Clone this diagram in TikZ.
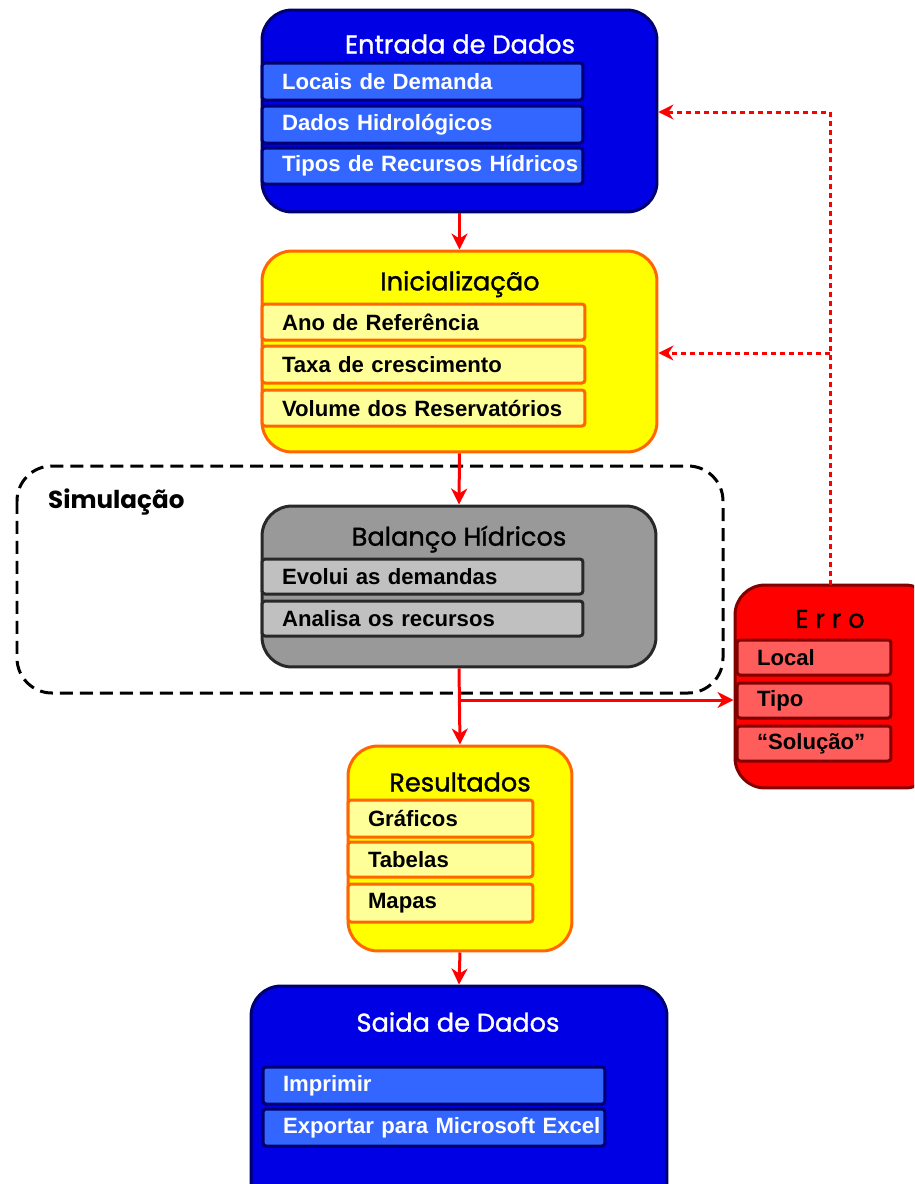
\documentclass[tikz,border=0pt]{standalone}
\usepackage{fontspec}
\setmainfont{Liberation Sans}
\newfontfamily\titlefont[FakeBold=1.2]{Poppins}
\newfontfamily\simfont{Poppins}
\usetikzlibrary{arrows.meta}
\newcommand{\boxtxt}[1]{\hspace*{0.4cm}\mbox{#1}}
\definecolor{bluefill}{RGB}{0,0,228}
\definecolor{navy}{RGB}{0,0,110}
\definecolor{blueitem}{RGB}{51,102,255}
\definecolor{yelfill}{RGB}{255,255,0}
\definecolor{orangeb}{RGB}{255,102,0}
\definecolor{yelitem}{RGB}{255,255,153}
\definecolor{grayfill}{RGB}{153,153,153}
\definecolor{grayb}{RGB}{40,40,40}
\definecolor{grayitem}{RGB}{192,192,192}
\definecolor{redfill}{RGB}{255,0,0}
\definecolor{redb}{RGB}{128,0,0}
\definecolor{reditem}{RGB}{255,92,92}
\definecolor{arrowred}{RGB}{255,0,0}
\tikzset{
  outer/.style={draw, line width=0.06cm, rounded corners=0.6cm, inner sep=0pt},
  item/.style={draw, line width=0.06cm, rounded corners=0.06cm, inner xsep=0pt, inner ysep=0pt, align=left, font=\bfseries\fontsize{12.6}{14}\selectfont},
  ttl/.style={font=\titlefont\fontsize{14.6}{16}\selectfont},
  arr/.style={draw=arrowred, line width=0.06cm, -{Stealth[length=0.32cm,width=0.32cm,inset=0.1cm]}},
  dotarr/.style={draw=arrowred, line width=0.06cm, dash pattern=on 0.1cm off 0.08cm, -{Stealth[length=0.3cm,width=0.3cm,inset=0.1cm]}},
}
\begin{document}
\begin{tikzpicture}[x=0.02cm,y=-0.02cm]
\clip (0,0) rectangle (914,1184);
\useasboundingbox (0,0) rectangle (914,1184);
% Simulacao dashed group
\draw[line width=0.06cm, dash pattern=on 0.26cm off 0.14cm, rounded corners=0.7cm] (17,466) rectangle (723,693);
\node[anchor=west, font=\simfont\bfseries\fontsize{14}{16}\selectfont] (sim) at (42,502) {Simulação};
% Entrada
\node[outer, fill=bluefill, draw=navy, minimum width=7.9cm, minimum height=4.04cm] (entrada) at (459.5,111) {};
\node[ttl, text=white] (entradaT) at (460,44) {Entrada de Dados};
\node[item, fill=blueitem, draw=navy, text=white, text width=6.42cm, minimum height=0.74cm] (e1) at (422.5,81.5) {\boxtxt{Locais de Demanda}};
\node[item, fill=blueitem, draw=navy, text=white, text width=6.42cm, minimum height=0.74cm] (e2) at (422.5,124.5) {\boxtxt{Dados Hidrológicos}};
\node[item, fill=blueitem, draw=navy, text=white, text width=6.42cm, minimum height=0.72cm] (e3) at (422.5,166) {\boxtxt{Tipos de Recursos Hídricos}};
% Inicializacao
\node[outer, fill=yelfill, draw=orangeb, minimum width=7.9cm, minimum height=4.02cm] (inicial) at (459.5,351.5) {};
\node[ttl] (inicialT) at (460,284) {Inicialização};
\node[item, fill=yelitem, draw=orangeb, text width=6.46cm, minimum height=0.72cm] (i1) at (423.5,322) {\boxtxt{Ano de Referência}};
\node[item, fill=yelitem, draw=orangeb, text width=6.46cm, minimum height=0.74cm] (i2) at (423.5,364.5) {\boxtxt{Taxa de crescimento}};
\node[item, fill=yelitem, draw=orangeb, text width=6.46cm, minimum height=0.72cm] (i3) at (423.5,408) {\boxtxt{Volume dos Reservatórios}};
% Balanco
\node[outer, fill=grayfill, draw=grayb, minimum width=7.88cm, minimum height=3.22cm] (balanco) at (459,586.5) {};
\node[ttl] (balancoT) at (459,539) {Balanço Hídricos};
\node[item, fill=grayitem, draw=grayb, text width=6.42cm, minimum height=0.7cm] (b1) at (422.5,576.5) {\boxtxt{Evolui as demandas}};
\node[item, fill=grayitem, draw=grayb, text width=6.42cm, minimum height=0.7cm] (b2) at (422.5,618.5) {\boxtxt{Analisa os recursos}};
% Erro
\node[outer, fill=redfill, draw=redb, minimum width=4cm, minimum height=4.06cm] (erro) at (835,686.5) {};
\node[ttl] (erroT) at (830,619) {E r r o};
\node[item, fill=reditem, draw=redb, text width=3.08cm, minimum height=0.7cm] (r1) at (814,657.5) {\boxtxt{Local}};
\node[item, fill=reditem, draw=redb, text width=3.08cm, minimum height=0.7cm] (r2) at (814,700.5) {\boxtxt{Tipo}};
\node[item, fill=reditem, draw=redb, text width=3.08cm, minimum height=0.7cm] (r3) at (814,743.5) {\boxtxt{“Solução”}};
% Resultados
\node[outer, fill=yelfill, draw=orangeb, minimum width=4.48cm, minimum height=4.1cm] (result) at (460,848.5) {};
\node[ttl] (resultT) at (460,782) {Resultados};
\node[item, fill=yelitem, draw=orangeb, text width=3.7cm, minimum height=0.74cm] (s1) at (440.5,818.5) {\boxtxt{Gráficos}};
\node[item, fill=yelitem, draw=orangeb, text width=3.7cm, minimum height=0.7cm] (s2) at (440.5,859.5) {\boxtxt{Tabelas}};
\node[item, fill=yelitem, draw=orangeb, text width=3.7cm, minimum height=0.76cm] (s3) at (440.5,903) {\boxtxt{Mapas}};
% Saida
\node[outer, fill=bluefill, draw=navy, minimum width=8.32cm, minimum height=4.5cm] (saida) at (459,1098.5) {};
\node[ttl, text=white] (saidaT) at (458,1022) {Saida de Dados};
\node[item, fill=blueitem, draw=navy, text=white, text width=6.84cm, minimum height=0.74cm] (o1) at (434,1085.5) {\boxtxt{Imprimir}};
\node[item, fill=blueitem, draw=navy, text=white, text width=6.84cm, minimum height=0.74cm] (o2) at (434,1127.5) {\boxtxt{Exportar para Microsoft Excel}};
% connectors
\coordinate (br) at (460,700);
\coordinate (ertop) at (830,585);
\coordinate (c1) at (830,112);
\coordinate (c2) at (830,353);
\draw[arr] (entrada.south) -- (inicial.north);
\draw[arr] (inicial.south) -- (balanco.north);
\draw[arr] (balanco.south) -- (result.north);
\draw[arr] (br) -- (br -| erro.west);
\draw[arr] (result.south) -- (saida.north);
\draw[dotarr] (ertop) -- (c1) -- (c1 -| entrada.east);
\draw[dotarr] (c2) -- (c2 -| inicial.east);
\end{tikzpicture}
\end{document}
